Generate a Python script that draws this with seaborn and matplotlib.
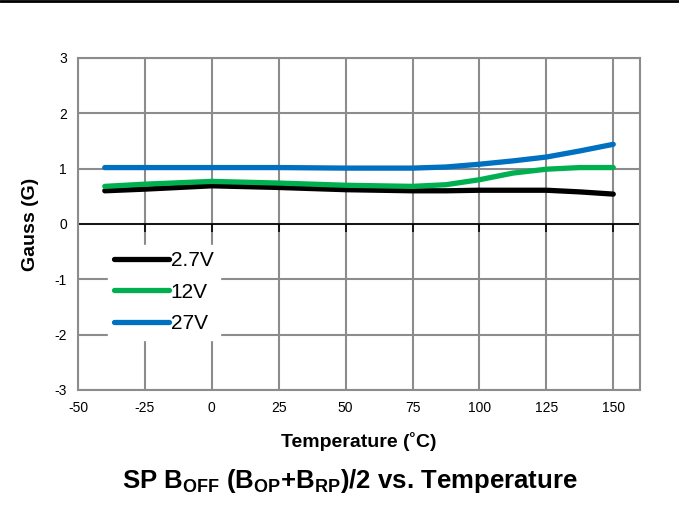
import numpy as np
import pandas as pd
import seaborn as sns
import matplotlib.pyplot as plt
from matplotlib.lines import Line2D

# values
temps = [-40, -25, 0, 25, 50, 75, 87.5, 100, 112.5, 125, 137.5, 150]
v_2p7 = [0.60, 0.63, 0.69, 0.66, 0.62, 0.60, 0.60, 0.61, 0.61, 0.61, 0.58, 0.54]
v_12 = [0.68, 0.72, 0.77, 0.74, 0.70, 0.68, 0.71, 0.80, 0.92, 0.99, 1.02, 1.02]
v_27 = [1.02, 1.02, 1.02, 1.02, 1.01, 1.01, 1.03, 1.08, 1.14, 1.21, 1.32, 1.44]
series = ["2.7V", "12V", "27V"]
colors = ["#000000", "#00b050", "#0070c0"]
xticks = [-50, -25, 0, 25, 50, 75, 100, 125, 150]
yticks = [-3, -2, -1, 0, 1, 2, 3]

df = pd.DataFrame({
    "Temperature": temps * 3,
    "Gauss": v_2p7 + v_12 + v_27,
    "Supply": np.repeat(series, len(temps)),
})

sns.set_style("white")
plt.rcParams["font.family"] = ["Liberation Sans", "DejaVu Sans"]
plt.rcParams["mathtext.fontset"] = "custom"
plt.rcParams["mathtext.bf"] = "Liberation Sans:bold"
plt.rcParams["mathtext.rm"] = "Liberation Sans"
plt.rcParams["axes.unicode_minus"] = False
plt.rcParams["text.color"] = "black"
plt.rcParams["axes.labelcolor"] = "black"

fig = plt.figure(figsize=(6.79, 5.22), dpi=100)
ax = fig.add_axes([0.1149, 0.2529, 0.8277, 0.636])

sns.lineplot(data=df, x="Temperature", y="Gauss", hue="Supply",
             palette=dict(zip(series, colors)), linewidth=3.8,
             solid_capstyle="round", solid_joinstyle="round",
             legend=False, ax=ax, zorder=3)

ax.set_xlim(-50, 160)
ax.set_ylim(-3, 3)
ax.set_xticks(xticks)
ax.set_yticks(yticks)
ax.grid(True, color="#8c8c8c", linewidth=1.5)
for s in ax.spines.values():
    s.set_color("#8c8c8c")
    s.set_linewidth(1.5)
ax.tick_params(axis="both", length=0, labelsize=10, pad=8, colors="black")

# zero line with tick marks
ax.axhline(0, color="black", linewidth=1.2, zorder=2)
ax.plot(xticks, [0] * len(xticks), linestyle="none", marker=3,
        markersize=6, color="black", markeredgewidth=1.2, zorder=2)

ax.set_xlabel("Temperature (˚C)", fontsize=14, fontweight="bold", labelpad=12)
ax.set_ylabel("Gauss (G)", fontsize=14, fontweight="bold", labelpad=11)

handles = [Line2D([], [], color=c, linewidth=3.8, solid_capstyle="round") for c in colors]
leg = ax.legend(handles, series, loc="upper left", bbox_to_anchor=(0.035, 0.468),
                frameon=True, fontsize=15, handlelength=2.6, handletextpad=0.1,
                labelspacing=0.6, borderpad=0.3, fancybox=False)
leg.get_frame().set_edgecolor("white")
leg.get_frame().set_facecolor("white")
leg.get_frame().set_alpha(1)

fig.text(0.515, 0.078,
         r"SP B$_{\mathbf{OFF}}$ (B$_{\mathbf{OP}}$+B$_{\mathbf{RP}}$)/2 vs. Temperature",
         ha="center", va="center", fontsize=18.5, fontweight="bold")

fig.add_artist(Line2D([0, 1], [0.998, 0.998], transform=fig.transFigure,
                      color="black", linewidth=2))

fig.savefig("out.png", dpi=100)
